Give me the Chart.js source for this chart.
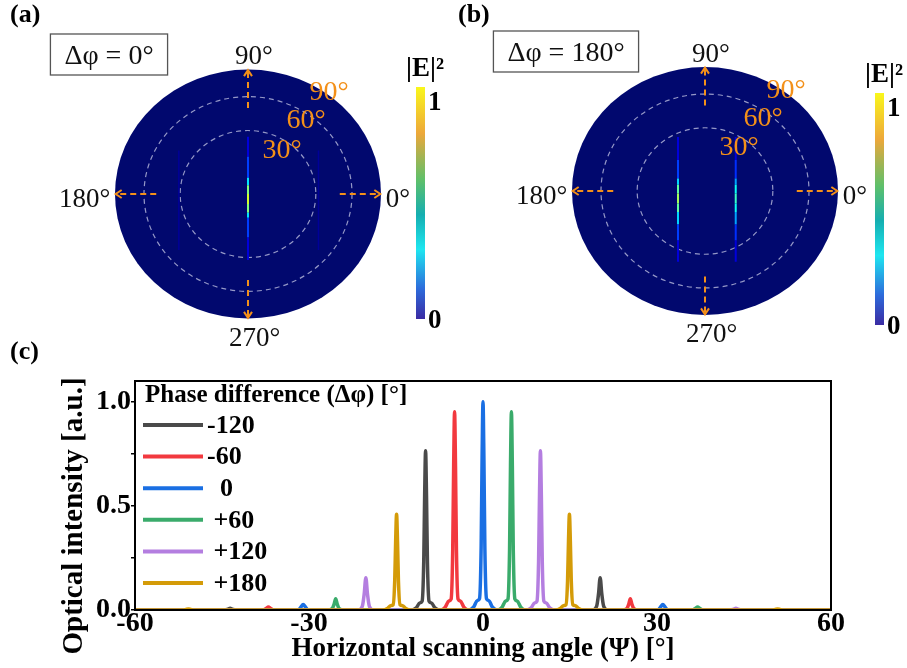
<!DOCTYPE html>
<html>
<head>
<meta charset="utf-8">
<script src="https://cdn.jsdelivr.net/npm/chart.js@4.4.1/dist/chart.umd.min.js"></script>
<style>
  body { margin: 0; background: #fff; }
  #wrap { position: relative; width: 907px; height: 668px; overflow: hidden; }
  canvas { position: absolute; }
</style>
</head>
<body>
<div id="wrap">
  <canvas id="polarA" width="453" height="355" style="left:0;top:0"></canvas>
  <canvas id="polarB" width="454" height="355" style="left:453px;top:0"></canvas>
  <canvas id="scan" width="907" height="330" style="left:0;top:338px"></canvas>
</div>
<script>
// ---- panel (c): scanning angle vs optical intensity ----
var seriesLabels = ['-120', '-60', '  0', ' +60', ' +120', ' +180'];
var seriesColors = ['#4a4a4a', '#f2393f', '#1a6fe3', '#3aab6b', '#b47ee0', '#d49b08'];

var angleM120 = [-60, -44.5, -44.0, -43.6, -43.2, -42.7, -12.3, -11.5, -10.9, -10.5, -10.22, -10.06, -9.9, -9.74, -9.58, -9.3, -8.9, -8.3, -7.5, 18.8, 19.6, 19.92, 20.2, 20.48, 20.8, 21.6, 60];
var powerM120 = [0, 0, 0.004, 0.008, 0.004, 0, 0, 0.011, 0.034, 0.042, 0.23, 0.55, 0.765, 0.55, 0.23, 0.042, 0.034, 0.011, 0, 0, 0.019, 0.078, 0.155, 0.078, 0.019, 0, 0];

var angleM60 = [-60, -37.9, -37.4, -37.0, -36.6, -36.1, -7.3, -6.5, -5.9, -5.5, -5.22, -5.06, -4.9, -4.74, -4.58, -4.3, -3.9, -3.3, -2.5, 24.0, 24.8, 25.12, 25.4, 25.68, 26.0, 26.8, 60];
var powerM60 = [0, 0, 0.007, 0.014, 0.007, 0, 0, 0.014, 0.043, 0.052, 0.29, 0.69, 0.952, 0.69, 0.29, 0.052, 0.043, 0.014, 0, 0, 0.0065, 0.027, 0.054, 0.027, 0.0065, 0, 0];

var angle0 = [-60, -31.9, -31.4, -31.0, -30.6, -30.1, -2.4, -1.6, -1.0, -0.6, -0.32, -0.16, 0, 0.16, 0.32, 0.6, 1.0, 1.6, 2.4, 30.1, 30.6, 31.0, 31.4, 31.9, 60];
var power0 = [0, 0, 0.014, 0.027, 0.014, 0, 0, 0.015, 0.045, 0.055, 0.3, 0.72, 1.0, 0.72, 0.3, 0.055, 0.045, 0.015, 0, 0, 0.014, 0.027, 0.014, 0, 0];

var angleP60 = [-60, -26.8, -26.0, -25.68, -25.4, -25.12, -24.8, -24.0, 2.5, 3.3, 3.9, 4.3, 4.58, 4.74, 4.9, 5.06, 5.22, 5.5, 5.9, 6.5, 7.3, 36.1, 36.6, 37.0, 37.4, 37.9, 60];
var powerP60 = [0, 0, 0.0065, 0.027, 0.054, 0.027, 0.0065, 0, 0, 0.014, 0.043, 0.052, 0.29, 0.69, 0.952, 0.69, 0.29, 0.052, 0.043, 0.014, 0, 0, 0.007, 0.014, 0.007, 0, 0];

var angleP120 = [-60, -21.6, -20.8, -20.48, -20.2, -19.92, -19.6, -18.8, 7.5, 8.3, 8.9, 9.3, 9.58, 9.74, 9.9, 10.06, 10.22, 10.5, 10.9, 11.5, 12.3, 42.7, 43.2, 43.6, 44.0, 44.5, 60];
var powerP120 = [0, 0, 0.019, 0.078, 0.155, 0.078, 0.019, 0, 0, 0.011, 0.034, 0.042, 0.23, 0.55, 0.765, 0.55, 0.23, 0.042, 0.034, 0.011, 0, 0, 0.004, 0.008, 0.004, 0, 0];

var angleP180 = [-60, -51.7, -51.2, -50.8, -50.4, -49.9, -17.3, -16.5, -15.9, -15.5, -15.22, -15.06, -14.9, -14.74, -14.58, -14.3, -13.9, -13.3, -12.5, 12.5, 13.3, 13.9, 14.3, 14.58, 14.74, 14.9, 15.06, 15.22, 15.5, 15.9, 16.5, 17.3, 49.9, 50.4, 50.8, 51.2, 51.7, 60];
var powerP180 = [0, 0, 0.003, 0.005, 0.003, 0, 0, 0.007, 0.021, 0.025, 0.14, 0.33, 0.46, 0.33, 0.14, 0.025, 0.021, 0.007, 0, 0, 0.007, 0.021, 0.025, 0.14, 0.33, 0.46, 0.33, 0.14, 0.025, 0.021, 0.007, 0, 0, 0.003, 0.005, 0.003, 0, 0];

var xTicks = [-60, -30, 0, 30, 60];
var yTicks = [0, 0.25, 0.5, 0.75, 1.0];
var yTickLabels = ['0.0', '', '0.5', '', '1.0'];

// ---- panels (a) and (b): far-field maps ----
var ringRadius = [0.51, 0.782];          // 30 and 60 deg rings, 90 deg = disk edge
var ringLabels = ['30°', '60°', '90°'];
var ringLabelPos = [[0.256, 0.37], [0.436, 0.61], [0.61, 0.835]];
var azimuthLabels = ['0°', '90°', '180°', '270°'];

var streakYA = [0.46, 0.3, 0.13, 0.07, 0.0, -0.04, -0.08, -0.15, -0.19, -0.35, -0.53];
var streakA0 = [0.06, 0.12, 0.25, 0.45, 0.56, 0.6, 0.56, 0.45, 0.25, 0.12, 0.06];
var sideYA = [0.35, 0.0, -0.45];
var sideA = [0.02, 0.03, 0.02];

var streakYB = [0.435, 0.25, 0.1, 0.05, -0.02, -0.06, -0.1, -0.17, -0.27, -0.4, -0.57];
var streakBL = [0.06, 0.12, 0.25, 0.42, 0.52, 0.55, 0.52, 0.42, 0.25, 0.12, 0.06];
var streakBR = [0.06, 0.12, 0.22, 0.35, 0.42, 0.44, 0.42, 0.35, 0.22, 0.12, 0.06];

var colorbarStops = ['#3b2ba3', '#2d6bdb', '#1ee6f0', '#15aeb0', '#5fc06a', '#a3b453', '#eda83a', '#f4cf2b', '#f9f71b'];
var colorbarPos = [0, 0.13, 0.3, 0.45, 0.6, 0.7, 0.8, 0.9, 1];

Chart.defaults.font.family = '"Liberation Serif", "Times New Roman", serif';
Chart.defaults.color = '#000';

var SERIF = '"Liberation Serif", "Times New Roman", serif';
var ORANGE = '#f39019';

function jet(v) {
  function c(t) { return Math.round(255 * Math.max(0, Math.min(1, t))); }
  return 'rgb(' + c(1.5 - Math.abs(4 * v - 3)) + ',' + c(1.5 - Math.abs(4 * v - 2)) + ',' + c(1.5 - Math.abs(4 * v - 1)) + ')';
}

var polarFrame = {
  id: 'polarFrame',
  beforeDatasetsDraw: function(chart, args, o) {
    var ctx = chart.ctx, x = chart.scales.x, y = chart.scales.y;
    var cx = x.getPixelForValue(0), cy = y.getPixelForValue(0);
    var rx = x.getPixelForValue(1) - cx, ry = cy - y.getPixelForValue(1);
    ctx.save();
    ctx.fillStyle = '#01086e';
    ctx.beginPath();
    ctx.ellipse(cx, cy, rx, ry, 0, 0, Math.PI * 2);
    ctx.fill();
    ctx.strokeStyle = 'rgba(175,178,215,0.85)';
    ctx.lineWidth = 1.2;
    ctx.setLineDash([5, 4]);
    ringRadius.forEach(function(r) {
      ctx.beginPath();
      ctx.ellipse(cx, cy, rx * r, ry * r, 0, 0, Math.PI * 2);
      ctx.stroke();
    });
    ctx.restore();
  },
  afterDatasetsDraw: function(chart, args, o) {
    var ctx = chart.ctx, x = chart.scales.x, y = chart.scales.y;
    var cx = x.getPixelForValue(0), cy = y.getPixelForValue(0);
    var rx = x.getPixelForValue(1) - cx, ry = cy - y.getPixelForValue(1);
    ctx.save();

    // dashed arrows along the azimuth axes
    ctx.strokeStyle = ORANGE;
    ctx.lineWidth = 2;
    [[1, 0], [0, 1], [-1, 0], [0, -1]].forEach(function(d) {
      var x0 = cx + d[0] * rx * 0.69, y0 = cy - d[1] * ry * 0.69;
      var x1 = cx + d[0] * rx * 0.995, y1 = cy - d[1] * ry * 0.995;
      ctx.setLineDash([6, 4]);
      ctx.beginPath(); ctx.moveTo(x0, y0); ctx.lineTo(x1, y1); ctx.stroke();
      ctx.setLineDash([]);
      var ux = d[0], uy = -d[1];
      ctx.beginPath();
      ctx.moveTo(x1 - ux * 6 - uy * 4, y1 - uy * 6 + ux * 4);
      ctx.lineTo(x1, y1);
      ctx.lineTo(x1 - ux * 6 + uy * 4, y1 - uy * 6 - ux * 4);
      ctx.stroke();
    });

    // azimuth labels
    ctx.fillStyle = '#111';
    ctx.font = '27px ' + SERIF;
    ctx.textBaseline = 'middle';
    ctx.textAlign = 'left';
    ctx.fillText(azimuthLabels[0], cx + rx * 1.035, cy + ry * 0.025 + 3);
    ctx.textAlign = 'center';
    ctx.fillText(azimuthLabels[1], cx + rx * 0.045, cy - ry * 1.13 + 4);
    ctx.textAlign = 'right';
    ctx.fillText(azimuthLabels[2], cx - rx * 1.035, cy + ry * 0.025 + 3);
    ctx.textAlign = 'center';
    ctx.fillText(azimuthLabels[3], cx + rx * 0.05, cy + ry * 1.14 + 3);

    // elevation ring labels
    ctx.fillStyle = ORANGE;
    ctx.font = '28px ' + SERIF;
    ringLabels.forEach(function(t, i) {
      ctx.fillText(t, cx + rx * ringLabelPos[i][0], cy - ry * ringLabelPos[i][1] + 3);
    });

    // phase box
    ctx.font = '28px ' + SERIF;
    var tw = ctx.measureText(o.phase).width + 28;
    var bx = cx - 139 - tw / 2, by = cy - 160;
    ctx.strokeStyle = '#555';
    ctx.lineWidth = 1.3;
    ctx.strokeRect(bx, by, tw, 41);
    ctx.fillStyle = '#111';
    ctx.fillText(o.phase, cx - 139, by + 23);

    // colour bar
    var g = ctx.createLinearGradient(0, o.cbBottom, 0, o.cbTop);
    colorbarStops.forEach(function(c, i) { g.addColorStop(colorbarPos[i], c); });
    ctx.fillStyle = g;
    ctx.fillRect(o.cbLeft, o.cbTop, 9, o.cbBottom - o.cbTop);
    ctx.fillStyle = '#000';
    ctx.font = 'bold 27px ' + SERIF;
    ctx.textAlign = 'center';
    ctx.fillText('|E|²', o.cbLeft + 9, o.cbTop - 18);
    ctx.textAlign = 'left';
    ctx.fillText('1', o.cbLeft + 12, o.cbTop + 16);
    ctx.fillText('0', o.cbLeft + 12, o.cbBottom + 2);

    // panel letter
    ctx.font = 'bold 26px ' + SERIF;
    ctx.fillText(o.letter, o.letterX, 15);
    ctx.restore();
  }
};

function makePolar(id, panel, streaks) {
  var canvas = document.getElementById(id);
  var W = canvas.width, H = canvas.height;
  var datasets = streaks.map(function(s) {
    return {
      data: s.ys.map(function(v) { return { x: s.x, y: v }; }),
      showLine: true,
      pointRadius: 0,
      borderWidth: s.width,
      borderColor: jet(s.level[0]),
      segment: {
        borderColor: function(c) { return jet((s.level[c.p0DataIndex] + s.level[c.p1DataIndex]) / 2); }
      }
    };
  });
  new Chart(canvas, {
    type: 'scatter',
    data: { datasets: datasets },
    options: {
      responsive: false,
      animation: false,
      devicePixelRatio: 1,
      layout: { padding: 0 },
      scales: {
        x: { display: false, min: -panel.cx / panel.rx, max: (W - panel.cx) / panel.rx },
        y: { display: false, min: -(H - panel.cy) / panel.ry, max: panel.cy / panel.ry }
      },
      plugins: {
        legend: { display: false },
        tooltip: { enabled: false },
        polarFrame: panel
      }
    },
    plugins: [polarFrame]
  });
}

makePolar('polarA',
  { cx: 248, cy: 194, rx: 133, ry: 124.5, phase: 'Δφ = 0°', letter: '(a)', letterX: 10, cbLeft: 416, cbTop: 87, cbBottom: 319 },
  [
    { x: -0.52, ys: sideYA, level: sideA, width: 1.5 },
    { x: 0.53, ys: sideYA, level: sideA, width: 1.5 },
    { x: 0, ys: streakYA, level: streakA0, width: 2 }
  ]);

makePolar('polarB',
  { cx: 252, cy: 191, rx: 133, ry: 124, phase: 'Δφ = 180°', letter: '(b)', letterX: 5, cbLeft: 422, cbTop: 93, cbBottom: 325 },
  [
    { x: -0.203, ys: streakYB, level: streakBL, width: 2 },
    { x: 0.231, ys: streakYB, level: streakBR, width: 2 }
  ]);

// ---- panel (c) ----
var scanDecor = {
  id: 'scanDecor',
  afterDraw: function(chart) {
    var ctx = chart.ctx, a = chart.chartArea;
    ctx.save();
    ctx.strokeStyle = '#000';
    ctx.lineWidth = 2;
    ctx.strokeRect(a.left, a.top, a.right - a.left, a.bottom - a.top);

    // legend
    ctx.fillStyle = '#000';
    ctx.textBaseline = 'middle';
    ctx.textAlign = 'left';
    ctx.font = 'bold 25px ' + SERIF;
    ctx.fillText('Phase difference (Δφ) [°]', 145, 58);
    ctx.font = 'bold 26px ' + SERIF;
    chart.data.datasets.forEach(function(ds, i) {
      var yy = 87 + i * 31.6;
      ctx.strokeStyle = ds.borderColor;
      ctx.lineWidth = 4;
      ctx.beginPath(); ctx.moveTo(143, yy); ctx.lineTo(203, yy); ctx.stroke();
      ctx.fillText(ds.label, 207, yy + 1);
    });

    // y axis title
    ctx.font = 'bold 29px ' + SERIF;
    ctx.translate(75, 178);
    ctx.rotate(-Math.PI / 2);
    ctx.textAlign = 'center';
    ctx.fillText('Optical intensity [a.u.]', 0, 0);
    ctx.setTransform(1, 0, 0, 1, 0, 0);
    ctx.textAlign = 'left';
    ctx.font = 'bold 26px ' + SERIF;
    ctx.fillText('(c)', 10, 14);
    ctx.restore();
  }
};

var angles = [angleM120, angleM60, angle0, angleP60, angleP120, angleP180];
var powers = [powerM120, powerM60, power0, powerP60, powerP120, powerP180];

new Chart(document.getElementById('scan'), {
  type: 'line',
  data: {
    datasets: seriesLabels.map(function(lab, i) {
      return {
        label: lab,
        data: angles[i].map(function(a, k) { return { x: a, y: powers[i][k] }; }),
        borderColor: seriesColors[i],
        borderWidth: 3.5,
        pointRadius: 0,
        cubicInterpolationMode: 'monotone',
        borderJoinStyle: 'round',
        fill: false,
        order: seriesLabels.length - i
      };
    })
  },
  options: {
    responsive: false,
    animation: false,
    devicePixelRatio: 1,
    layout: { padding: { top: 43, right: 76, left: 0, bottom: 0 } },
    scales: {
      x: {
        type: 'linear',
        min: -60,
        max: 60,
        afterBuildTicks: function(s) { s.ticks = xTicks.map(function(v) { return { value: v }; }); },
        afterFit: function(s) { s.height = 58; },
        ticks: { font: { size: 28, weight: 'bold' }, color: '#000', padding: -3, maxRotation: 0,
                 callback: function(v) { return String(v); } },
        grid: { drawOnChartArea: false, drawTicks: false },
        border: { display: true, color: '#000', width: 2 },
        title: { display: true, text: 'Horizontal scanning angle (Ψ) [°]', color: '#000',
                 font: { size: 27, weight: 'bold' }, padding: { top: 0, bottom: 3 } }
      },
      y: {
        min: 0,
        max: 1.1,
        afterBuildTicks: function(s) { s.ticks = yTicks.map(function(v) { return { value: v }; }); },
        afterFit: function(s) { s.width = 135; },
        ticks: { font: { size: 28, weight: 'bold' }, color: '#000', padding: 0,
                 callback: function(v, i) { return yTickLabels[i]; } },
        grid: { drawOnChartArea: false, drawTicks: true, tickLength: 4, color: '#000', lineWidth: 1.5 },
        border: { display: true, color: '#000', width: 2 }
      }
    },
    plugins: {
      legend: { display: false },
      tooltip: { enabled: false }
    }
  },
  plugins: [scanDecor]
});
</script>
</body>
</html>
